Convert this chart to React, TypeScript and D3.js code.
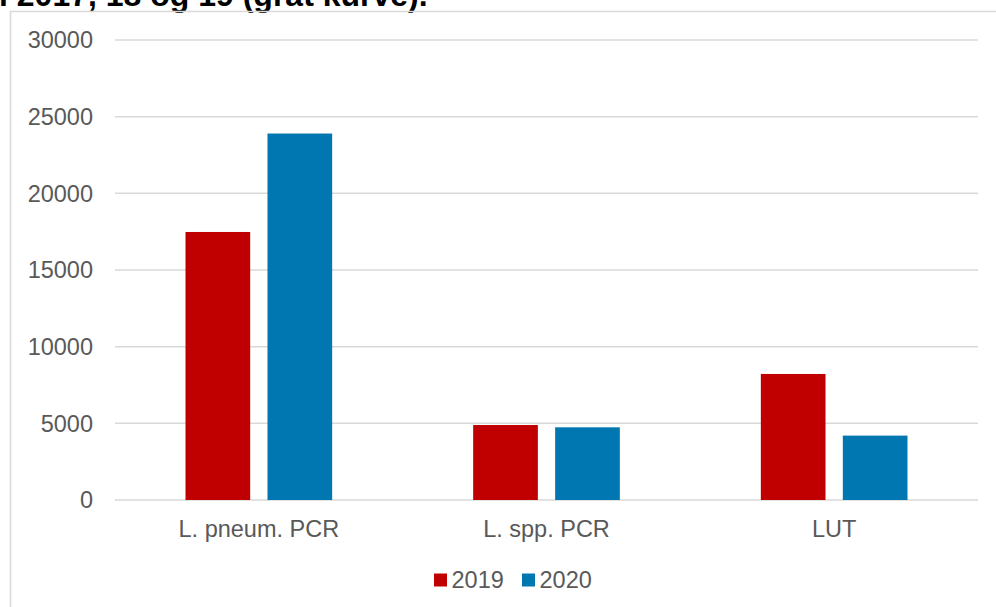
import React from "react";
import * as d3 from "d3";

const categories = ["L. pneum. PCR", "L. spp. PCR", "LUT"];
const seriesNames = ["2019", "2020"];
const values2019 = [17480, 4890, 8220];
const values2020 = [23900, 4740, 4200];
const yTicks = [0, 5000, 10000, 15000, 20000, 25000, 30000];
const titleText = "i 2017, 18 og 19 (gråt kurve).";

const colors: Record<string, string> = { "2019": "#C00000", "2020": "#0077B0" };

export default function App() {
  const W = 996;
  const H = 607;
  const left = 115;
  const right = 978;
  const top = 40;
  const bottom = 500;
  const font = "'Liberation Sans', Arial, sans-serif";
  const fs = 23.5;

  const x0 = d3.scaleBand<string>().domain(categories).range([left, right]).paddingInner(0).paddingOuter(0);
  const x1 = d3
    .scaleBand<string>()
    .domain(seriesNames)
    .range([0, x0.bandwidth()])
    .paddingInner(0.211)
    .paddingOuter(0.86);
  const y = d3.scaleLinear().domain([0, 30000]).range([bottom, top]);

  const seriesValues: Record<string, number[]> = { "2019": values2019, "2020": values2020 };

  return (
    <svg
      width={W}
      height={H}
      style={{ position: "absolute", left: 0, top: 0, background: "#fff" }}
      fontFamily={font}
    >
      <rect x={0} y={0} width={W} height={H} fill="#fff" />
      <text x={-1} y={6} textAnchor="start" fontSize={32} fontWeight="bold" fill="#000">
        {titleText}
      </text>
      <rect x={10.5} y={11.5} width={W + 20} height={H + 20} fill="none" stroke="#d9d9d9" strokeWidth={1.5} />
      {yTicks.map((t) => (
        <g key={t}>
          <line x1={left} x2={right} y1={y(t)} y2={y(t)} stroke="#d9d9d9" strokeWidth={1.5} />
          <text x={93} y={y(t)} dy="0.35em" textAnchor="end" fontSize={fs} fill="#595959">
            {t}
          </text>
        </g>
      ))}
      {categories.map((c, i) => (
        <g key={c}>
          {seriesNames.map((s) => {
            const v = seriesValues[s][i];
            return (
              <rect
                key={s}
                x={(x0(c) as number) + (x1(s) as number)}
                y={y(v)}
                width={x1.bandwidth()}
                height={y(0) - y(v)}
                fill={colors[s]}
              />
            );
          })}
          <text
            x={(x0(c) as number) + x0.bandwidth() / 2}
            y={537}
            textAnchor="middle"
            fontSize={fs}
            fill="#595959"
          >
            {c}
          </text>
        </g>
      ))}
      {seriesNames.map((s, i) => {
        const lx = i === 0 ? 434 : 522;
        return (
          <g key={s}>
            <rect x={lx} y={573.5} width={13} height={13} fill={colors[s]} />
            <text x={lx + 17.5} y={588} fontSize={fs} fill="#595959">
              {s}
            </text>
          </g>
        );
      })}
    </svg>
  );
}
